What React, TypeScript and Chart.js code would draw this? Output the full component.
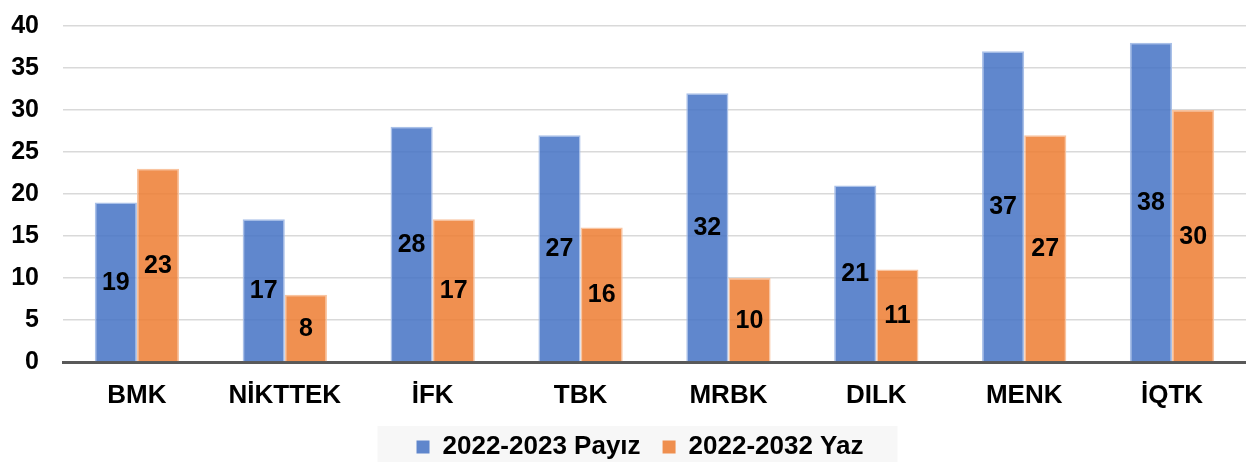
import React, { useEffect, useRef } from "react";
import { Chart, registerables } from "chart.js";

Chart.register(...registerables);

const categories = ["BMK", "NİKTTEK", "İFK", "TBK", "MRBK", "DILK", "MENK", "İQTK"];
const seriesNames = ["2022-2023 Payız", "2022-2032 Yaz"];
const payizValues = [19, 17, 28, 27, 32, 21, 37, 38];
const yazValues = [23, 8, 17, 16, 10, 11, 27, 30];
const yTicks = [0, 5, 10, 15, 20, 25, 30, 35, 40];

const FONT = "'Liberation Sans', Arial, sans-serif";

const barLabelPlugin = {
  id: "barLabels",
  afterDatasetsDraw(chart: any) {
    const ctx = chart.ctx;
    ctx.save();
    ctx.font = `bold 25px ${FONT}`;
    ctx.fillStyle = "#000";
    ctx.textAlign = "center";
    ctx.textBaseline = "middle";
    chart.data.datasets.forEach((ds: any, i: number) => {
      const meta = chart.getDatasetMeta(i);
      meta.data.forEach((el: any, j: number) => {
        const y = (el.y + el.base) / 2;
        ctx.fillText(String(ds.data[j]), el.x, y + 1);
      });
    });
    ctx.restore();
  },
};

const legendBgPlugin = {
  id: "legendBg",
  afterLayout(chart: any) {
    const lg = chart.legend;
    if (lg) {
      lg.left += 17;
      lg.right += 17;
    }
  },
  beforeDraw(chart: any) {
    const lg = chart.legend;
    if (!lg || !lg.legendHitBoxes || !lg.legendHitBoxes.length) return;
    const boxes = lg.legendHitBoxes;
    const first = boxes[0];
    const last = boxes[boxes.length - 1];
    const ctx = chart.ctx;
    ctx.save();
    ctx.fillStyle = "#F7F7F7";
    const left = first.left - 39;
    const right = last.left + last.width + 34;
    const top = first.top - 8;
    ctx.fillRect(left, top, right - left, chart.height - top);
    ctx.restore();
  },
};

export default function App() {
  const ref = useRef<HTMLCanvasElement | null>(null);

  useEffect(() => {
    document.body.style.margin = "0";
    const chart = new Chart(ref.current as HTMLCanvasElement, {
      type: "bar",
      data: {
        labels: categories,
        datasets: [
          {
            label: seriesNames[0],
            data: payizValues,
            backgroundColor: "rgba(68,114,196,0.85)",
            borderColor: "rgba(160,185,230,0.9)",
            borderWidth: 1.5,
            categoryPercentage: 0.57,
            barPercentage: 1.0,
          },
          {
            label: seriesNames[1],
            data: yazValues,
            backgroundColor: "rgba(237,125,49,0.85)",
            borderColor: "rgba(248,190,150,0.9)",
            borderWidth: 1.5,
            categoryPercentage: 0.57,
            barPercentage: 1.0,
          },
        ],
      },
      options: {
        animation: false,
        responsive: false,
        maintainAspectRatio: false,
        layout: { padding: { top: 26, left: 0, right: 0, bottom: -8 } },
        plugins: {
          tooltip: { enabled: false },
          legend: {
            position: "bottom",
            labels: {
              color: "#000",
              font: { family: FONT, size: 26, weight: "bold" },
              boxWidth: 13,
              boxHeight: 13,
              padding: 22,
              generateLabels: (chart: any) =>
                chart.data.datasets.map((ds: any, i: number) => ({
                  text: ds.label,
                  fillStyle: ds.backgroundColor,
                  strokeStyle: ds.backgroundColor,
                  lineWidth: 0,
                  datasetIndex: i,
                  hidden: false,
                })),
            },
          },
        },
        scales: {
          x: {
            grid: { display: false },
            border: { display: true, color: "#595959", width: 3 },
            ticks: {
              color: "#000",
              font: { family: FONT, size: 26, weight: "bold" },
              padding: 10,
              maxRotation: 0,
            },
            afterFit: (s: any) => {
              s.height = 50;
            },
          },
          y: {
            min: 0,
            max: 40,
            afterBuildTicks: (s: any) => {
              s.ticks = yTicks.map((v) => ({ value: v }));
            },
            grid: { display: true, color: "#D9D9D9", lineWidth: 1.5, drawTicks: false },
            border: { display: false },
            ticks: {
              color: "#000",
              font: { family: FONT, size: 25, weight: "bold" },
              padding: 24,
            },
            afterFit: (s: any) => {
              s.width = 63;
              s.paddingTop = 0;
              s.paddingBottom = 0;
            },
          },
        },
      },
      plugins: [legendBgPlugin, barLabelPlugin],
    } as any);
    return () => chart.destroy();
  }, []);

  return (
    <div style={{ width: 1246, height: 462 }}>
      <canvas ref={ref} width={1246} height={462} style={{ display: "block" }} />
    </div>
  );
}
